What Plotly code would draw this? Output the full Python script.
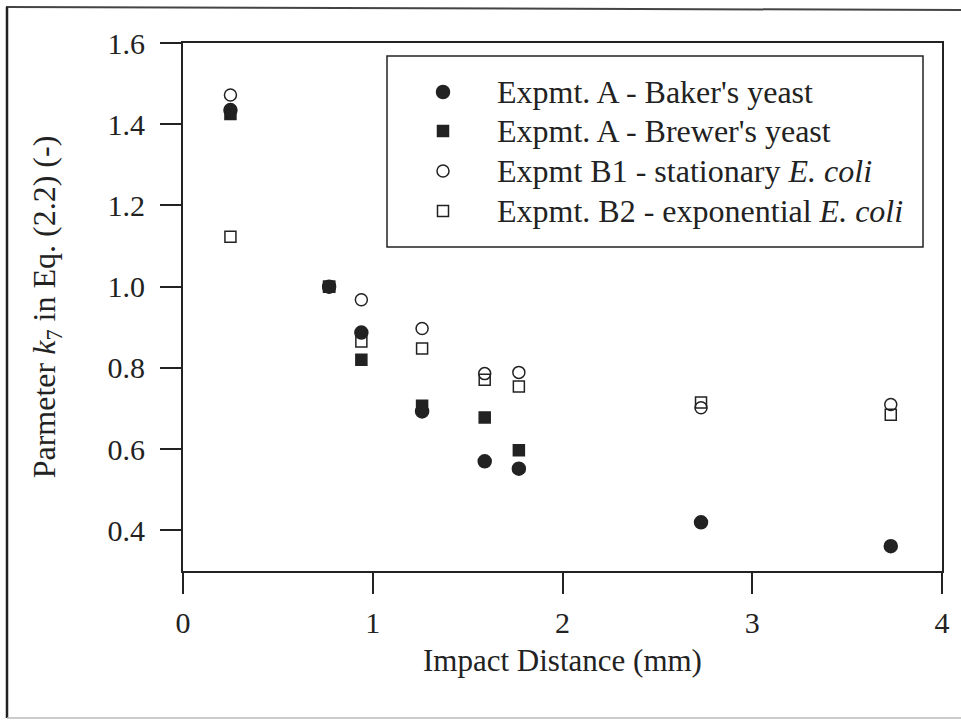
import plotly.graph_objects as go

# Impact distance (mm) for each experiment
dist_baker = [0.25, 0.77, 0.94, 1.26, 1.59, 1.77, 2.73, 3.73]
dist_brewer = [0.25, 0.77, 0.94, 1.26, 1.59, 1.77]
dist_b1 = [0.25, 0.77, 0.94, 1.26, 1.59, 1.77, 2.73, 3.73]
dist_b2 = [0.25, 0.77, 0.94, 1.26, 1.59, 1.77, 2.73, 3.73]

# Fitted parameter k7 in Eq. (2.2)
k7_baker = [1.435, 1.0, 0.887, 0.693, 0.570, 0.552, 0.420, 0.361]
k7_brewer = [1.425, 1.0, 0.820, 0.707, 0.678, 0.597]
k7_b1 = [1.472, 1.0, 0.968, 0.897, 0.786, 0.789, 0.702, 0.710]
k7_b2 = [1.123, 1.0, 0.865, 0.848, 0.771, 0.754, 0.715, 0.685]

names = [
    "Expmt. A - Baker's yeast",
    "Expmt. A - Brewer's yeast",
    "Expmt B1 - stationary <i>E. coli</i>",
    "Expmt. B2 - exponential <i>E. coli</i>",
]

x_ticks = [0, 1, 2, 3, 4]
y_ticks = [0.4, 0.6, 0.8, 1.0, 1.2, 1.4, 1.6]

INK = "#222222"
FONT = "Liberation Serif"
W, H = 961, 721
ML, MR, MT, MB = 183, 19, 43, 150

fig = go.Figure()
# open symbols first so the filled markers sit on top
series = [
    (dist_b1, k7_b1, "circle-open", 12, names[2]),
    (dist_b2, k7_b2, "square-open", 11, names[3]),
    (dist_baker, k7_baker, "circle", 13, names[0]),
    (dist_brewer, k7_brewer, "square", 11, names[1]),
]
for xs, ys, sym, sz, nm in series:
    fig.add_trace(go.Scatter(
        x=xs, y=ys, mode="markers", name=nm, showlegend=False,
        marker=dict(symbol=sym, size=sz, color=INK,
                    line=dict(color=INK, width=1.5)),
    ))


def px_x(p):
    return (p - ML) / (W - ML - MR)


def px_y(p):
    return (H - MB - p) / (H - MT - MB)


shapes = [
    # legend frame
    dict(type="rect", xref="paper", yref="paper",
         x0=px_x(387), x1=px_x(923), y0=px_y(247), y1=px_y(56),
         line=dict(color=INK, width=1.5)),
    # page frame (top, left, bottom)
    dict(type="line", xref="paper", yref="paper",
         x0=px_x(6), x1=px_x(961), y0=px_y(7), y1=px_y(10),
         line=dict(color="#444", width=2)),
    dict(type="line", xref="paper", yref="paper",
         x0=px_x(7), x1=px_x(7), y0=px_y(7), y1=px_y(718),
         line=dict(color="#222", width=2.5)),
    dict(type="line", xref="paper", yref="paper",
         x0=px_x(7), x1=px_x(961), y0=px_y(718), y1=px_y(718),
         line=dict(color="#bbb", width=1.5)),
]

# legend entries: key symbol + label
LEG_KEY_X = 443
LEG_TEXT_X = 495
LEG_ROWS = [92, 131, 171, 211]
leg_keys = [("circle", True, 13), ("square", True, 11),
            ("circle", False, 12), ("square", False, 11)]
annotations = []
for (kind, filled, d), row, label in zip(leg_keys, LEG_ROWS, names):
    r = d / 2
    shapes.append(dict(
        type="circle" if kind == "circle" else "rect",
        xref="paper", yref="paper",
        x0=px_x(LEG_KEY_X - r), x1=px_x(LEG_KEY_X + r),
        y0=px_y(row + r), y1=px_y(row - r),
        fillcolor=INK if filled else "rgba(0,0,0,0)",
        line=dict(color=INK, width=1.5),
    ))
    annotations.append(dict(
        text=label, xref="paper", yref="paper",
        x=px_x(LEG_TEXT_X), y=px_y(row),
        xanchor="left", yanchor="middle", showarrow=False,
        font=dict(family=FONT, size=32, color=INK),
    ))

axis_common = dict(
    showline=True, linecolor=INK, linewidth=2, mirror=True,
    ticks="outside", ticklen=21, tickwidth=2, tickcolor=INK,
    showgrid=False, zeroline=False,
    tickfont=dict(family=FONT, size=30, color=INK),
)

fig.update_layout(
    width=W, height=H,
    margin=dict(l=ML, r=MR, t=MT, b=MB, pad=0),
    paper_bgcolor="white", plot_bgcolor="white",
    font=dict(family=FONT, size=30, color=INK),
    showlegend=False,
    xaxis=dict(
        range=[0, 4], tickvals=x_ticks, ticktext=[str(v) for v in x_ticks],
        ticklabelstandoff=3,
        title=dict(text="Impact Distance (mm)", standoff=11,
                   font=dict(family=FONT, size=31, color=INK)),
        **axis_common,
    ),
    yaxis=dict(
        range=[0.3, 1.6], tickvals=y_ticks,
        ticktext=[f"{v:.1f}" for v in y_ticks],
        ticklabelstandoff=9,
        title=dict(text="Parmeter <i>k</i><sub>7</sub> in Eq. (2.2) (-)",
                   standoff=42,
                   font=dict(family=FONT, size=32, color=INK)),
        **axis_common,
    ),
    shapes=shapes,
    annotations=annotations,
)

fig.write_html("out.html")
